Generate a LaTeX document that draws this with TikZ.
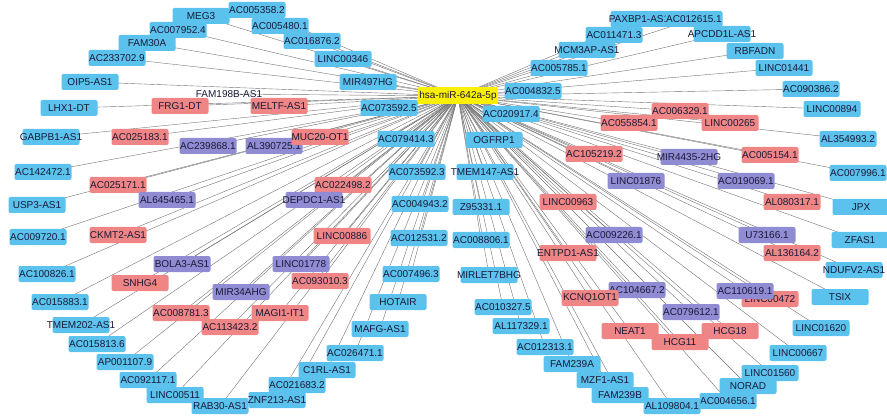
\documentclass[tikz,border=0pt]{standalone}
\usepackage{fontspec}
\setmainfont{Liberation Sans}
\usepackage{tikz}
\usetikzlibrary{backgrounds}
\usepackage{xcolor}
\definecolor{lncblue}{HTML}{5AC2EC}
\definecolor{lncred}{HTML}{EF8585}
\definecolor{lncpurple}{HTML}{8F8CD3}
\definecolor{mirnayellow}{HTML}{FAF000}
\definecolor{labeltext}{HTML}{1A1A38}
\tikzset{
	lnc/.style={rounded corners=2pt, minimum width=57pt, minimum height=16pt, inner sep=0pt,
		text=labeltext, font=\fontsize{10}{11}\selectfont,
		execute at begin node={\hbox to 50pt\bgroup\hss}, execute at end node={\hss\egroup}},
	lb/.style={lnc, fill=lncblue},
	lr/.style={lnc, fill=lncred},
	lp/.style={lnc, fill=lncpurple},
	bare/.style={lnc},
	mirna/.style={fill=mirnayellow, minimum width=80pt, minimum height=17pt, inner sep=0pt,
		text=labeltext, font=\fontsize{10}{11}\selectfont},
	edge/.style={draw=black!55, line width=0.4pt}
}

\begin{document}
\begin{tikzpicture}[x=1pt, y=-1pt]
				\useasboundingbox (0,0) rectangle (887,417);
				\node[mirna] (hub) at (458,96) {hsa-miR-642a-5p};
				% left half
				\node[lb] (MEG3) at (201,16) {MEG3};
				\node[lb] (AC005358-2) at (257,10) {AC005358.2};
				\node[lb] (AC005480-1) at (280,26) {AC005480.1};
				\node[lb] (AC007952-4) at (178,30) {AC007952.4};
				\node[lb] (FAM30A) at (147,43) {FAM30A};
				\node[lb] (AC016876-2) at (312,41) {AC016876.2};
				\node[lb] (AC233702-9) at (117,58) {AC233702.9};
				\node[lb] (LINC00346) at (343,59) {LINC00346};
				\node[lb] (MIR497HG) at (368,82) {MIR497HG};
				\node[lb] (OIP5-AS1) at (90,82) {OIP5-AS1};
				\node[bare] (FAM198B-AS1) at (229,94) {FAM198B-AS1};
				\node[lb] (LHX1-DT) at (69,108) {LHX1-DT};
				\node[lr] (FRG1-DT) at (180,106) {FRG1-DT};
				\node[lr] (MELTF-AS1) at (279,106) {MELTF-AS1};
				\node[lb] (AC073592-5) at (389,108) {AC073592.5};
				\node[lb] (GABPB1-AS1) at (51,137) {GABPB1-AS1};
				\node[lr] (AC025183-1) at (140,137) {AC025183.1};
				\node[lp] (AC239868-1) at (208,146) {AC239868.1};
				\node[lp] (AL390725-1) at (274,146) {AL390725.1};
				\node[lr] (MUC20-OT1) at (320,137) {MUC20-OT1};
				\node[lb] (AC079414-3) at (406,139) {AC079414.3};
				\node[lb] (AC142472-1) at (43,172) {AC142472.1};
				\node[lb] (AC073592-3) at (417,172) {AC073592.3};
				\node[lr] (AC025171-1) at (118,185) {AC025171.1};
				\node[lr] (AC022498-2) at (343,185) {AC022498.2};
				\node[lp] (AL645465-1) at (167,200) {AL645465.1};
				\node[lp] (DEPDC1-AS1) at (314,200) {DEPDC1-AS1};
				\node[lb] (USP3-AS1) at (37,205) {USP3-AS1};
				\node[lb] (AC004943-2) at (420,204) {AC004943.2};
				\node[lb] (AC009720-1) at (38,237) {AC009720.1};
				\node[lr] (CKMT2-AS1) at (118,235) {CKMT2-AS1};
				\node[lr] (LINC00886) at (342,236) {LINC00886};
				\node[lb] (AC012531-2) at (419,238) {AC012531.2};
				\node[lb] (AC100826-1) at (47,274) {AC100826.1};
				\node[lp] (BOLA3-AS1) at (182,264) {BOLA3-AS1};
				\node[lp] (LINC01778) at (301,264) {LINC01778};
				\node[lr] (SNHG4) at (140,283) {SNHG4};
				\node[lr] (AC093010-3) at (320,281) {AC093010.3};
				\node[lb] (AC007496-3) at (411,274) {AC007496.3};
				\node[lp] (MIR34AHG) at (241,292) {MIR34AHG};
				\node[lb] (HOTAIR) at (398,302) {HOTAIR};
				\node[lb] (AC015883-1) at (60,302) {AC015883.1};
				\node[lr] (AC113423-2) at (230,327) {AC113423.2};
				\node[lr] (AC008781-3) at (181,313) {AC008781.3};
				\node[lr] (MAGI1-IT1) at (280,313) {MAGI1-IT1};
				\node[lb] (TMEM202-AS1) at (81,325) {TMEM202-AS1};
				\node[lb] (MAFG-AS1) at (380,329) {MAFG-AS1};
				\node[lb] (AC015813-6) at (97,344) {AC015813.6};
				\node[lb] (AC026471-1) at (355,353) {AC026471.1};
				\node[lb] (AP001107-9) at (125,362) {AP001107.9};
				\node[lb] (C1RL-AS1) at (327,370) {C1RL-AS1};
				\node[lb] (AC092117-1) at (148,380) {AC092117.1};
				\node[lb] (AC021683-2) at (297,385) {AC021683.2};
				\node[lb] (LINC00511) at (175,395) {LINC00511};
				\node[lb] (RAB30-AS1) at (220,406) {RAB30-AS1};
				\node[lb] (ZNF213-AS1) at (277,400) {ZNF213-AS1};
				% right half
				\node[lb] (AC004832-5) at (533,91) {AC004832.5};
				\node[lb] (AC005785-1) at (559,68) {AC005785.1};
				\node[lb] (MCM3AP-AS1) at (587,50) {MCM3AP-AS1};
				\node[lb] (AC011471-3) at (614,35) {AC011471.3};
				\node[lb] (PAXBP1-AS1) at (639,19) {PAXBP1-AS1};
				\node[lb] (AC012615-1) at (694,19) {AC012615.1};
				\node[lb] (APCDD1L-AS1) at (722,34) {APCDD1L-AS1};
				\node[lb] (RBFADN) at (755,51) {RBFADN};
				\node[lb] (LINC01441) at (784,68) {LINC01441};
				\node[lb] (AC090386-2) at (811,89) {AC090386.2};
				\node[lb] (LINC00894) at (832,109) {LINC00894};
				\node[lr] (AC006329-1) at (680,111) {AC006329.1};
				\node[lr] (AC055854-1) at (629,123) {AC055854.1};
				\node[lr] (LINC00265) at (730,123) {LINC00265};
				\node[lb] (AL354993-2) at (848,139) {AL354993.2};
				\node[lb] (AC020917-4) at (511,114) {AC020917.4};
				\node[lb] (OGFRP1) at (494,140) {OGFRP1};
				\node[lr] (AC105219-2) at (594,154) {AC105219.2};
				\node[lp] (MIR4435-2HG) at (689,157) {MIR4435-2HG};
				\node[lr] (AC005154-1) at (770,155) {AC005154.1};
				\node[lb] (AC007996-1) at (858,173) {AC007996.1};
				\node[lp] (LINC01876) at (636,181) {LINC01876};
				\node[lp] (AC019069-1) at (746,181) {AC019069.1};
				\node[lb] (TMEM147-AS1) at (485,172) {TMEM147-AS1};
				\node[lr] (LINC00963) at (568,202) {LINC00963};
				\node[lr] (AL080317-1) at (792,202) {AL080317.1};
				\node[lb] (JPX) at (861,207) {JPX};
				\node[lb] (Z95331-1) at (481,207) {Z95331.1};
				\node[lb] (AC008806-1) at (481,240) {AC008806.1};
				\node[lp] (AC009226-1) at (614,235) {AC009226.1};
				\node[lp] (U73166-1) at (767,235) {U73166.1};
				\node[lb] (ZFAS1) at (860,240) {ZFAS1};
				\node[lr] (ENTPD1-AS1) at (568,253) {ENTPD1-AS1};
				\node[lr] (AL136164-2) at (792,253) {AL136164.2};
				\node[lb] (NDUFV2-AS1) at (854,270) {NDUFV2-AS1};
				\node[lb] (MIRLET7BHG) at (489,275) {MIRLET7BHG};
				\node[lb] (AC010327-5) at (503,307) {AC010327.5};
				\node[lp] (AC104667-2) at (637,290) {AC104667.2};
				\node[lr] (KCNQ1OT1) at (590,298) {KCNQ1OT1};
				\node[lr] (LINC00472) at (770,299) {LINC00472};
				\node[lp] (AC110619-1) at (745,291) {AC110619.1};
				\node[lb] (TSIX) at (840,297) {TSIX};
				\node[lp] (AC079612-1) at (691,312) {AC079612.1};
				\node[lr] (NEAT1) at (630,331) {NEAT1};
				\node[lr] (HCG18) at (730,331) {HCG18};
				\node[lr] (HCG11) at (680,342) {HCG11};
				\node[lb] (LINC01620) at (821,328) {LINC01620};
				\node[lb] (AL117329-1) at (521,326) {AL117329.1};
				\node[lb] (AC012313-1) at (545,347) {AC012313.1};
				\node[lb] (LINC00667) at (798,353) {LINC00667};
				\node[lb] (FAM239A) at (572,364) {FAM239A};
				\node[lb] (LINC01560) at (770,373) {LINC01560};
				\node[lb] (MZF1-AS1) at (605,380) {MZF1-AS1};
				\node[lb] (NORAD) at (748,386) {NORAD};
				\node[lb] (FAM239B) at (620,395) {FAM239B};
				\node[lb] (AC004656-1) at (728,401) {AC004656.1};
				\node[lb] (AL109804-1) at (672,406) {AL109804.1};
				% edges to the miRNA
				\begin{scope}[on background layer]
					\foreach \n in {MEG3, AC005358-2, AC005480-1, AC007952-4, FAM30A, AC016876-2, AC233702-9,
						LINC00346, MIR497HG, OIP5-AS1, FAM198B-AS1, LHX1-DT, FRG1-DT, MELTF-AS1, AC073592-5,
						GABPB1-AS1, AC025183-1, AC239868-1, AL390725-1, MUC20-OT1, AC079414-3, AC142472-1,
						AC073592-3, AC025171-1, AC022498-2, AL645465-1, DEPDC1-AS1, USP3-AS1, AC004943-2,
						AC009720-1, CKMT2-AS1, LINC00886, AC012531-2, AC100826-1, BOLA3-AS1, LINC01778, SNHG4,
						AC093010-3, AC007496-3, MIR34AHG, HOTAIR, AC015883-1, AC113423-2, AC008781-3, MAGI1-IT1,
						TMEM202-AS1, MAFG-AS1, AC015813-6, AC026471-1, AP001107-9, C1RL-AS1, AC092117-1,
						AC021683-2, LINC00511, RAB30-AS1, ZNF213-AS1,
						AC004832-5, AC005785-1, MCM3AP-AS1, AC011471-3, PAXBP1-AS1, AC012615-1, APCDD1L-AS1,
						RBFADN, LINC01441, AC090386-2, LINC00894, AC006329-1, AC055854-1, LINC00265, AL354993-2,
						AC020917-4, OGFRP1, AC105219-2, MIR4435-2HG, AC005154-1, AC007996-1, LINC01876,
						AC019069-1, TMEM147-AS1, LINC00963, AL080317-1, JPX, Z95331-1, AC008806-1, AC009226-1,
						U73166-1, ZFAS1, ENTPD1-AS1, AL136164-2, NDUFV2-AS1, MIRLET7BHG, AC010327-5, AC104667-2,
						KCNQ1OT1, LINC00472, AC110619-1, TSIX, AC079612-1, NEAT1, HCG18, HCG11, LINC01620,
						AL117329-1, AC012313-1, LINC00667, FAM239A, LINC01560, MZF1-AS1, NORAD, FAM239B,
						AC004656-1, AL109804-1}
						\draw[edge] (hub.center) -- (\n.center);
				\end{scope}
			\end{tikzpicture}
\end{document}
